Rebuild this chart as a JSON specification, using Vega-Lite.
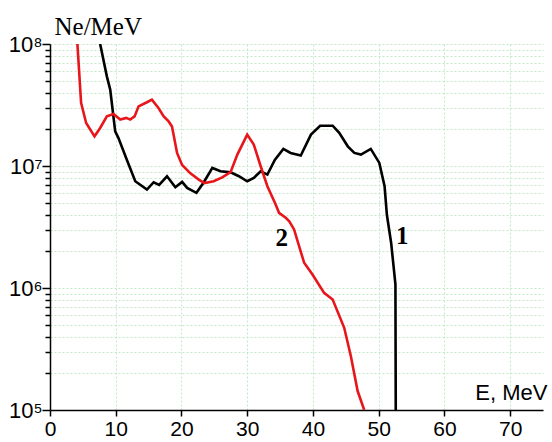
{
  "$schema": "https://vega.github.io/schema/vega-lite/v6.json",
  "width": 493,
  "height": 366,
  "autosize": "none",
  "padding": {"left": 50, "top": 44, "right": 9, "bottom": 32},
  "background": "white",
  "config": {"view": {"stroke": null}},
  "datasets": {
    "curves": [
      {"curve": "1", "E": 7.63, "N": 1.0e8},
      {"curve": "1", "E": 8.65, "N": 5.43e7},
      {"curve": "1", "E": 9.16, "N": 4.23e7},
      {"curve": "1", "E": 9.92, "N": 1.92e7},
      {"curve": "1", "E": 10.4, "N": 1.70e7},
      {"curve": "1", "E": 11.7, "N": 1.12e7},
      {"curve": "1", "E": 12.97, "N": 7.5e6},
      {"curve": "1", "E": 14.75, "N": 6.41e6},
      {"curve": "1", "E": 15.77, "N": 7.36e6},
      {"curve": "1", "E": 16.6, "N": 7.0e6},
      {"curve": "1", "E": 17.8, "N": 8.24e6},
      {"curve": "1", "E": 19.07, "N": 6.7e6},
      {"curve": "1", "E": 20.1, "N": 7.41e6},
      {"curve": "1", "E": 20.86, "N": 6.61e6},
      {"curve": "1", "E": 22.28, "N": 6.03e6},
      {"curve": "1", "E": 23.4, "N": 7.36e6},
      {"curve": "1", "E": 24.7, "N": 9.64e6},
      {"curve": "1", "E": 25.94, "N": 9.06e6},
      {"curve": "1", "E": 27.47, "N": 8.87e6},
      {"curve": "1", "E": 28.74, "N": 8.24e6},
      {"curve": "1", "E": 30.0, "N": 7.5e6},
      {"curve": "1", "E": 31.0, "N": 8.0e6},
      {"curve": "1", "E": 32.05, "N": 9.06e6},
      {"curve": "1", "E": 33.07, "N": 8.51e6},
      {"curve": "1", "E": 34.2, "N": 1.12e7},
      {"curve": "1", "E": 35.5, "N": 1.38e7},
      {"curve": "1", "E": 36.6, "N": 1.28e7},
      {"curve": "1", "E": 38.15, "N": 1.22e7},
      {"curve": "1", "E": 39.7, "N": 1.81e7},
      {"curve": "1", "E": 41.1, "N": 2.14e7},
      {"curve": "1", "E": 43.0, "N": 2.14e7},
      {"curve": "1", "E": 44.0, "N": 1.87e7},
      {"curve": "1", "E": 45.3, "N": 1.45e7},
      {"curve": "1", "E": 46.3, "N": 1.28e7},
      {"curve": "1", "E": 47.3, "N": 1.24e7},
      {"curve": "1", "E": 48.8, "N": 1.38e7},
      {"curve": "1", "E": 50.1, "N": 1.06e7},
      {"curve": "1", "E": 50.9, "N": 6.82e6},
      {"curve": "1", "E": 51.25, "N": 3.98e6},
      {"curve": "1", "E": 51.9, "N": 2.34e6},
      {"curve": "1", "E": 52.55, "N": 1.07e6},
      {"curve": "1", "E": 52.6, "N": 1.0e5},
      {"curve": "2", "E": 4.17, "N": 1.0e8},
      {"curve": "2", "E": 4.73, "N": 3.29e7},
      {"curve": "2", "E": 5.5, "N": 2.25e7},
      {"curve": "2", "E": 6.77, "N": 1.75e7},
      {"curve": "2", "E": 7.63, "N": 2.05e7},
      {"curve": "2", "E": 8.65, "N": 2.55e7},
      {"curve": "2", "E": 9.66, "N": 2.67e7},
      {"curve": "2", "E": 10.68, "N": 2.4e7},
      {"curve": "2", "E": 11.6, "N": 2.48e7},
      {"curve": "2", "E": 12.2, "N": 2.4e7},
      {"curve": "2", "E": 12.87, "N": 2.55e7},
      {"curve": "2", "E": 13.47, "N": 3.08e7},
      {"curve": "2", "E": 14.75, "N": 3.33e7},
      {"curve": "2", "E": 15.5, "N": 3.5e7},
      {"curve": "2", "E": 16.5, "N": 2.99e7},
      {"curve": "2", "E": 17.3, "N": 2.55e7},
      {"curve": "2", "E": 18.05, "N": 2.32e7},
      {"curve": "2", "E": 18.56, "N": 2.11e7},
      {"curve": "2", "E": 19.33, "N": 1.28e7},
      {"curve": "2", "E": 20.1, "N": 1.02e7},
      {"curve": "2", "E": 21.36, "N": 8.71e6},
      {"curve": "2", "E": 22.63, "N": 7.74e6},
      {"curve": "2", "E": 23.5, "N": 7.24e6},
      {"curve": "2", "E": 24.9, "N": 7.5e6},
      {"curve": "2", "E": 26.2, "N": 8.07e6},
      {"curve": "2", "E": 27.47, "N": 8.91e6},
      {"curve": "2", "E": 28.5, "N": 1.24e7},
      {"curve": "2", "E": 30.0, "N": 1.81e7},
      {"curve": "2", "E": 31.0, "N": 1.5e7},
      {"curve": "2", "E": 32.05, "N": 9.95e6},
      {"curve": "2", "E": 33.07, "N": 6.82e6},
      {"curve": "2", "E": 34.33, "N": 4.83e6},
      {"curve": "2", "E": 34.84, "N": 4.13e6},
      {"curve": "2", "E": 35.86, "N": 3.76e6},
      {"curve": "2", "E": 36.4, "N": 3.52e6},
      {"curve": "2", "E": 37.13, "N": 3.02e6},
      {"curve": "2", "E": 38.66, "N": 1.61e6},
      {"curve": "2", "E": 39.93, "N": 1.29e6},
      {"curve": "2", "E": 41.7, "N": 9.12e5},
      {"curve": "2", "E": 43.0, "N": 8.05e5},
      {"curve": "2", "E": 44.76, "N": 4.72e5},
      {"curve": "2", "E": 45.78, "N": 2.75e5},
      {"curve": "2", "E": 46.8, "N": 1.43e5},
      {"curve": "2", "E": 47.8, "N": 1.0e5}
    ],
    "labels": [
      {"label": "2", "E": 35.25, "N": 2.57e6},
      {"label": "1", "E": 53.6, "N": 2.67e6}
    ]
  },
  "layer": [
    {
      "data": {"name": "curves"},
      "mark": {"type": "line", "strokeWidth": 2.6, "clip": true},
      "encoding": {
        "x": {
          "field": "E",
          "type": "quantitative",
          "scale": {"domain": [0, 75], "nice": false},
          "axis": {
            "title": "E, MeV",
            "titleX": 497,
            "titleY": -11,
            "titleAlign": "right",
            "titleBaseline": "alphabetic",
            "titleFont": "Liberation Sans",
            "titleFontSize": 22,
            "titleFontWeight": "normal",
            "titleColor": "black",
            "values": [0, 5, 10, 15, 20, 25, 30, 35, 40, 45, 50, 55, 60, 65, 70, 75],
            "labelExpr": "(datum.value % 10 == 0 && datum.value <= 70) ? datum.label : ''",
            "labelFont": "Liberation Sans",
            "labelFontSize": 21,
            "labelColor": "black",
            "labelPadding": 2,
            "labelFlush": false,
            "labelOverlap": false,
            "tickSize": 6,
            "tickColor": "black",
            "tickWidth": 1.5,
            "domainColor": "black",
            "domainWidth": 1.5,
            "grid": true,
            "gridColor": "#c2e8c6",
            "gridDash": [2, 2],
            "gridWidth": 1,
            "gridOpacity": {"condition": {"test": "datum.value == 75 || datum.value == 0", "value": 0}, "value": 1}
          }
        },
        "y": {
          "field": "N",
          "type": "quantitative",
          "scale": {"type": "log", "domain": [100000, 100000000], "nice": false},
          "axis": {
            "title": "Ne/MeV",
            "titleAngle": 0,
            "titleAlign": "left",
            "titleBaseline": "alphabetic",
            "titleX": 4,
            "titleY": -10,
            "titleFont": "Liberation Serif",
            "titleFontSize": 25,
            "titleFontWeight": "normal",
            "titleColor": "black",
            "values": [100000, 200000, 300000, 400000, 500000, 600000, 700000, 800000, 900000, 1000000, 2000000, 3000000, 4000000, 5000000, 6000000, 7000000, 8000000, 9000000, 10000000, 20000000, 30000000, 40000000, 50000000, 60000000, 70000000, 80000000, 90000000, 100000000],
            "labelExpr": "datum.value == 100000000 ? '10⁸' : datum.value == 10000000 ? '10⁷' : datum.value == 1000000 ? '10⁶' : datum.value == 100000 ? '10⁵' : ''",
            "labelFont": "Liberation Sans",
            "labelFontSize": 22,
            "labelColor": "black",
            "labelPadding": 0,
            "labelFlush": false,
            "labelOverlap": false,
            "tickSize": {"condition": {"test": "datum.value == 100000 || datum.value == 1000000 || datum.value == 10000000 || datum.value == 100000000", "value": 8}, "value": 5},
            "tickColor": "black",
            "tickWidth": 1.5,
            "domainColor": "black",
            "domainWidth": 1.5,
            "grid": true,
            "gridColor": "#c2e8c6",
            "gridDash": [2, 2],
            "gridWidth": 1
          }
        },
        "color": {
          "field": "curve",
          "type": "nominal",
          "scale": {"domain": ["1", "2"], "range": ["#000000", "#e8161b"]},
          "legend": null
        }
      }
    },
    {
      "data": {"name": "labels"},
      "mark": {"type": "text", "font": "Liberation Serif", "fontWeight": "bold", "fontSize": 25, "color": "black"},
      "encoding": {
        "x": {"field": "E", "type": "quantitative"},
        "y": {"field": "N", "type": "quantitative"},
        "text": {"field": "label"}
      }
    }
  ]
}
